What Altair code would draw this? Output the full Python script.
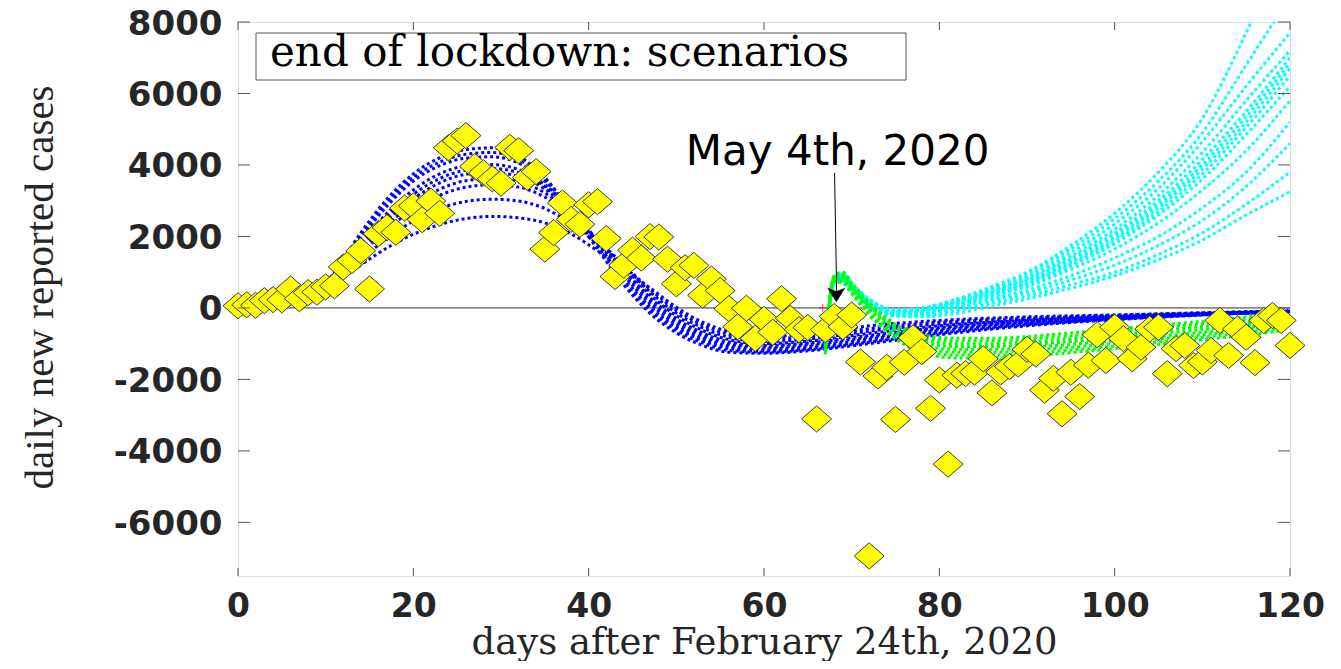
import altair as alt
import pandas as pd

# ---------------- data ----------------
DAYS = list(range(0, 121))
NEW_CASES = [60, 90, 74, 203, 233, 228, 528, 258, 428, 443,
             590, 620, 1145, 1326, 1598, 529, 2076, 2249, 2116, 2795,
             2853, 2470, 2989, 2648, 4480, 4670, 4821, 3957, 3780, 3612,
             3491, 4492, 4401, 3651, 3815, 1648, 2107, 2937, 2477, 2339,
             2886, 2972, 1941, 880, 1195, 1615, 1396, 1996, 1984, 1363,
             675, 1127, 1189, 355, 809, 486, -20, -528, -10, -851,
             -321, -680, 256, -290, -608, -548, -3106, -608, -239, -525,
             -199, -1513, -6939, -1904, -1663, -3119, -1518, -836, -1222, -2809,
             -2017, -4370, -1883, -1836, -1798, -1424, -2377, -1792, -1638, -1570,
             -1158, -1290, -2300, -1970, -2960, -1800, -2480, -1600, -750, -1470,
             -540, -860, -1420, -1100, -590, -540, -1840, -1140, -1050, -1610,
             -1510, -1190, -350, -1330, -590, -820, -1530, -350, -210, -350, -1050]

BLUE_DAYS = [0, 4, 8, 11, 14, 17, 20, 23, 26, 29, 32, 35, 38, 41, 44, 47, 50, 53,
             56, 60, 65, 72, 80, 90, 100, 110, 120]
BLUE_CURVES = [
    [0, 60, 250, 1000, 2100, 3050, 3750, 4200, 4430, 4480, 4250, 3650, 2700, 1650, 650, -150, -700, -1050, -1240, -1270, -1200, -1000, -750, -500, -330, -200, -110],
    [0, 60, 250, 980, 2020, 2950, 3650, 4080, 4300, 4350, 4150, 3600, 2720, 1720, 740, -60, -620, -980, -1190, -1240, -1170, -960, -710, -475, -315, -193, -107],
    [0, 60, 250, 950, 1950, 2850, 3550, 3980, 4190, 4230, 4050, 3550, 2740, 1790, 830, 30, -540, -910, -1130, -1200, -1130, -920, -670, -450, -300, -186, -104],
    [0, 60, 240, 900, 1800, 2650, 3300, 3750, 3970, 4010, 3870, 3450, 2750, 1850, 920, 120, -460, -840, -1070, -1150, -1080, -870, -630, -425, -285, -179, -101],
    [0, 60, 235, 870, 1720, 2550, 3180, 3620, 3850, 3900, 3780, 3390, 2740, 1880, 1000, 210, -380, -770, -1010, -1100, -1030, -820, -590, -400, -270, -172, -98],
    [0, 60, 230, 850, 1650, 2450, 3050, 3500, 3740, 3790, 3680, 3330, 2700, 1900, 1080, 290, -300, -700, -950, -1050, -980, -770, -550, -375, -255, -165, -95],
    [0, 60, 225, 820, 1580, 2330, 2900, 3320, 3560, 3620, 3530, 3220, 2640, 1900, 1150, 370, -220, -630, -890, -1000, -930, -710, -500, -345, -240, -158, -92],
    [0, 60, 220, 800, 1500, 2200, 2750, 3150, 3380, 3450, 3380, 3100, 2560, 1900, 1200, 450, -140, -560, -820, -940, -870, -650, -450, -315, -225, -150, -89],
    [0, 60, 210, 750, 1350, 1950, 2430, 2780, 2980, 3040, 2990, 2780, 2360, 1800, 1200, 520, -60, -480, -740, -870, -800, -580, -400, -285, -210, -142, -86],
    [0, 50, 200, 700, 1200, 1680, 2060, 2330, 2500, 2560, 2520, 2380, 2070, 1600, 1080, 560, 20, -400, -660, -800, -720, -500, -350, -250, -195, -135, -83],
]

GREEN_DAYS = [67, 68, 69, 70, 72, 75, 78, 82, 86, 90, 95, 100, 105, 110, 115, 119]
GREEN_CURVES = [
    [-1000, 900, 1000, 700, 150, -450, -750, -850, -850, -800, -700, -600, -480, -380, -250, -120],
    [-1050, 880, 950, 650, 100, -500, -800, -920, -920, -870, -780, -680, -560, -440, -320, -200],
    [-1100, 850, 900, 600, 50, -560, -870, -1000, -1000, -950, -860, -760, -640, -520, -400, -280],
    [-1100, 820, 860, 560, 0, -620, -950, -1080, -1080, -1030, -940, -840, -720, -600, -470, -350],
    [-1150, 800, 820, 520, -50, -680, -1030, -1160, -1160, -1110, -1020, -920, -800, -680, -550, -430],
    [-1200, 780, 780, 480, -100, -740, -1100, -1240, -1240, -1190, -1100, -990, -870, -750, -620, -500],
    [-1250, 760, 740, 440, -150, -800, -1180, -1320, -1320, -1270, -1180, -1070, -950, -820, -690, -570],
    [-1300, 740, 700, 400, -200, -860, -1250, -1400, -1400, -1350, -1250, -1140, -1020, -890, -760, -640],
]

CYAN_DAYS = [67, 68, 69, 70, 72, 75, 78, 82, 86, 90, 95, 100, 105, 110, 115, 120]
CYAN_CURVES = [
    [-1000, 850, 950, 700, 250, -50, 0, 250, 600, 1000, 1750, 2650, 3800, 5300, 7700, 10500],
    [-1000, 850, 930, 680, 230, -60, -10, 230, 560, 950, 1650, 2500, 3550, 4900, 6800, 8700],
    [-1050, 820, 900, 660, 210, -80, -30, 200, 520, 880, 1550, 2350, 3350, 4650, 6200, 7700],
    [-1050, 800, 880, 640, 190, -90, -50, 180, 480, 820, 1450, 2200, 3150, 4350, 5800, 7200],
    [-1100, 800, 870, 620, 180, -100, -60, 160, 450, 780, 1380, 2100, 3000, 4150, 5500, 7000],
    [-1100, 780, 860, 610, 170, -110, -80, 140, 420, 740, 1320, 2020, 2900, 4000, 5350, 6850],
    [-1100, 780, 850, 600, 160, -120, -90, 120, 400, 710, 1270, 1950, 2800, 3880, 5200, 6700],
    [-1150, 760, 840, 590, 150, -130, -100, 100, 380, 680, 1220, 1880, 2700, 3750, 5050, 6500],
    [-1150, 750, 830, 580, 140, -140, -110, 80, 350, 650, 1170, 1800, 2600, 3600, 4850, 6200],
    [-1150, 740, 820, 570, 130, -150, -130, 60, 320, 600, 1080, 1650, 2380, 3300, 4400, 5800],
    [-1200, 720, 800, 550, 110, -170, -160, 20, 250, 500, 900, 1400, 2000, 2800, 3800, 5200],
    [-1200, 700, 780, 530, 90, -190, -190, -20, 200, 420, 780, 1200, 1750, 2450, 3400, 4600],
    [-1200, 680, 760, 510, 70, -210, -220, -80, 130, 330, 650, 1000, 1500, 2100, 2900, 3800],
    [-1250, 660, 740, 490, 50, -230, -250, -150, 50, 250, 550, 900, 1350, 1900, 2600, 3250],
]

X_TICKS = [0, 20, 40, 60, 80, 100, 120]
Y_TICKS = [-6000, -4000, -2000, 0, 2000, 4000, 6000, 8000]
X_DOMAIN = [0, 120]
Y_DOMAIN = [-7500, 8000]

LEGEND_TEXT = "end of lockdown: scenarios"
ANNOT_TEXT = "May 4th, 2020"
ANNOT_DAY, ANNOT_VALUE = 68.4, 4010
ARROW_FROM = (68.05, 3780)
ARROW_TO = (68.3, 300)
ARROW_HEAD = (68.25, 362)
RED_MARK = (66.7, 0)

# ---------------- layout ----------------
W, H = 1052, 554
INK = "#262626"
TICK_C = "#555555"
DIAMOND = "M-1,0L0,-0.87L1,0L0,0.87Z"
ARROWHEAD = "M0,0.8L-1,-0.8L0,-0.4L1,-0.8Z"
CROSS = "M-1,0L1,0M0,-1L0,1"


def long_df(days, curves, fam):
    rows = []
    for i, c in enumerate(curves):
        for d, v in zip(days, c):
            rows.append({"day": d, "value": v, "curve": f"{fam}{i}"})
    return pd.DataFrame(rows)


xs = alt.Scale(domain=X_DOMAIN, nice=False, zero=False)
ys = alt.Scale(domain=Y_DOMAIN, nice=False, zero=False)

x_axis = alt.Axis(values=X_TICKS, title="days after February 24th, 2020", domain=False,
                  ticks=False, grid=False, labelFont="DejaVu Sans", labelFontWeight="bold",
                  labelFontSize=33, labelColor=INK, labelPadding=14, labelFlush=False,
                  labelOverlap=False, labelExpr="'' + datum.value",
                  titleFont="DejaVu Serif", titleFontSize=37, titleFontWeight="normal",
                  titleColor=INK, titleY=77, titleBaseline="alphabetic")
y_axis = alt.Axis(values=Y_TICKS, title="daily new reported cases", domain=False,
                  ticks=False, grid=False, labelFont="DejaVu Sans", labelFontWeight="bold",
                  labelFontSize=34, labelColor=INK, labelPadding=16, labelFlush=False,
                  labelOverlap=False, labelExpr="'' + datum.value",
                  labelBaseline="alphabetic", labelOffset=12,
                  titleFont="Liberation Serif", titleFontSize=41, titleFontWeight="normal",
                  titleColor=INK, titleAngle=270, titleX=-186, titleY=265,
                  titleBaseline="alphabetic", titleAlign="center")

X = alt.X("day:Q", scale=xs, axis=x_axis)
Y = alt.Y("value:Q", scale=ys, axis=y_axis)

pts = pd.DataFrame({"day": DAYS, "value": NEW_CASES})
blue = long_df(BLUE_DAYS, BLUE_CURVES, "b")
green = long_df(GREEN_DAYS, GREEN_CURVES, "g")
cyan = long_df(CYAN_DAYS, CYAN_CURVES, "c")

zero_line = alt.Chart(pd.DataFrame({"value": [0]})).mark_rule(
    color="#333333", strokeWidth=1).encode(y=Y, x=alt.value(0), x2=alt.value(W))


def curves(df, col):
    return alt.Chart(df).mark_line(color=col, strokeWidth=3, strokeDash=[3, 3],
                                   interpolate="monotone", clip=True).encode(
        x=X, y=Y, detail="curve:N")


red = alt.Chart(pd.DataFrame({"day": [RED_MARK[0]], "value": [RED_MARK[1]]})).mark_point(
    shape=CROSS, size=64, filled=False, stroke="#ff0000", strokeWidth=1).encode(x=X, y=Y)

diamonds = alt.Chart(pts).mark_point(shape=DIAMOND, size=900, filled=True, fill="#ffff00",
                                     fillOpacity=1, stroke="#3a3a3a", strokeWidth=1,
                                     strokeOpacity=1).encode(x=X, y=Y)

arrow_df = pd.DataFrame({"day": [ARROW_FROM[0]], "value": [ARROW_FROM[1]],
                         "day2": [ARROW_TO[0]], "value2": [ARROW_TO[1]]})
arrow = alt.Chart(arrow_df).mark_rule(color="black", strokeWidth=1).encode(
    x=X, y=Y, x2="day2:Q", y2="value2:Q")
head = alt.Chart(pd.DataFrame({"day": [ARROW_HEAD[0]], "value": [ARROW_HEAD[1]]})).mark_point(
    shape=ARROWHEAD, size=289, filled=True, fill="black", fillOpacity=1,
    stroke="black", strokeWidth=0.5).encode(x=X, y=Y)

annot = alt.Chart(pd.DataFrame({"day": [ANNOT_DAY], "value": [ANNOT_VALUE],
                                "t": [ANNOT_TEXT]})).mark_text(
    align="center", baseline="alphabetic", font="DejaVu Sans", fontSize=42,
    color="black").encode(x=X, y=Y, text="t:N")

leg_df = pd.DataFrame({"t": [LEGEND_TEXT]})
leg_box = alt.Chart(leg_df).mark_rect(fill="white", stroke="#555555", strokeWidth=1).encode(
    x=alt.value(18), x2=alt.value(668), y=alt.value(11), y2=alt.value(58))
leg_txt = alt.Chart(leg_df).mark_text(align="left", baseline="alphabetic",
                                      font="DejaVu Serif", fontSize=42,
                                      color="black").encode(
    x=alt.value(32), y=alt.value(44), text="t:N")

xt = pd.DataFrame({"day": X_TICKS})
yt = pd.DataFrame({"value": Y_TICKS})
tb = alt.Chart(xt).mark_rule(color=TICK_C, strokeWidth=1).encode(
    x=X, y=alt.value(H), y2=alt.value(H - 8))
tt = alt.Chart(xt).mark_rule(color=TICK_C, strokeWidth=1).encode(
    x=X, y=alt.value(0), y2=alt.value(8))
tl = alt.Chart(yt).mark_rule(color=TICK_C, strokeWidth=1).encode(
    y=Y, x=alt.value(0), x2=alt.value(12))
tr = alt.Chart(yt).mark_rule(color=TICK_C, strokeWidth=1).encode(
    y=Y, x=alt.value(W), x2=alt.value(W - 12))

chart = alt.layer(
    zero_line,
    curves(blue, "#0000ff"),
    curves(cyan, "#00ffff"),
    curves(green, "#00ff00"),
    red, diamonds, arrow, head, annot, leg_box, leg_txt, tb, tt, tl, tr,
).properties(
    width=W, height=H,
    autosize=alt.AutoSizeParams(type="none"),
    padding={"left": 230, "top": 14, "right": 43, "bottom": 85},
).configure_view(stroke="#404040", strokeWidth=1).configure(background="white")

chart.save("out.html", embed_options={"renderer": "svg", "actions": False})
